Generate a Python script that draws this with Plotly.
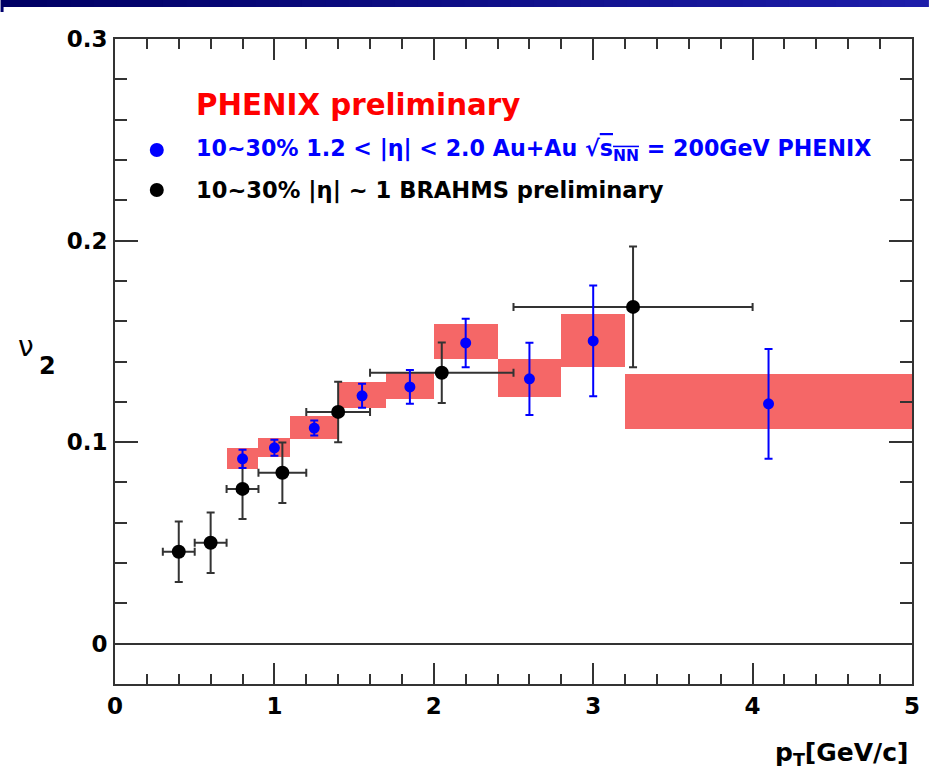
import plotly.graph_objects as go

# ---------------- data ----------------
# PHENIX (blue) points
phx_x = [0.8, 1.0, 1.25, 1.55, 1.85, 2.2, 2.6, 3.0, 4.1]
phx_y = [0.0917, 0.0972, 0.1070, 0.1230, 0.1274, 0.1492, 0.1314, 0.1502, 0.1190]
phx_err = [0.0045, 0.0040, 0.0037, 0.0060, 0.0084, 0.0120, 0.0179, 0.0275, 0.0272]

# PHENIX systematic boxes
sys_xlo = [0.7, 0.9, 1.1, 1.4, 1.7, 2.0, 2.4, 2.8, 3.2]
sys_xhi = [0.9, 1.1, 1.4, 1.7, 2.0, 2.4, 2.8, 3.2, 5.0]
sys_ylo = [0.0868, 0.0927, 0.1016, 0.1170, 0.1215, 0.1413, 0.1225, 0.1373, 0.1066]
sys_yhi = [0.0972, 0.1020, 0.1130, 0.1300, 0.1348, 0.1587, 0.1413, 0.1636, 0.1339]

# BRAHMS (black) points
brh_x = [0.4, 0.6, 0.8, 1.05, 1.4, 2.05, 3.25]
brh_y = [0.0456, 0.0501, 0.0768, 0.0848, 0.1150, 0.1344, 0.1671]
brh_xerr = [0.1, 0.1, 0.1, 0.15, 0.2, 0.45, 0.75]
brh_yerr = [0.015, 0.015, 0.015, 0.015, 0.015, 0.015, 0.030]

x_ticks = [0, 1, 2, 3, 4, 5]
y_ticks = [0, 0.1, 0.2, 0.3]
y_ticktext = ["0", "0.1", "0.2", "0.3"]

FONT = "DejaVu Sans"

fig = go.Figure()

# systematic boxes as bars
fig.add_trace(go.Bar(
    x=[(a + b) / 2 for a, b in zip(sys_xlo, sys_xhi)],
    width=[b - a for a, b in zip(sys_xlo, sys_xhi)],
    base=sys_ylo,
    y=[h - l for l, h in zip(sys_ylo, sys_yhi)],
    marker=dict(color="rgba(240,25,25,0.66)", line=dict(width=0)),
    showlegend=False, hoverinfo="skip",
))

# BRAHMS
fig.add_trace(go.Scatter(
    x=brh_x, y=brh_y, mode="markers",
    marker=dict(color="black", size=14, symbol="circle"),
    error_x=dict(type="data", array=brh_xerr, color="#333333", thickness=2, width=4),
    error_y=dict(type="data", array=brh_yerr, color="#333333", thickness=2, width=4),
    showlegend=False,
))

# PHENIX
fig.add_trace(go.Scatter(
    x=phx_x, y=phx_y, mode="markers",
    marker=dict(color="#0000ff", size=11, symbol="circle"),
    error_y=dict(type="data", array=phx_err, color="#0000ff", thickness=2, width=4),
    showlegend=False,
))

axis_common = dict(
    showgrid=False, showline=True, linecolor="#333333", linewidth=2,
    mirror="ticks", ticks="inside", tickcolor="#333333", tickwidth=2,
    tickfont=dict(family=FONT, size=23, color="black", weight="bold"),
)

fig.update_xaxes(
    range=[0, 5], tickvals=x_ticks, ticklen=21, zeroline=False,
    minor=dict(ticks="inside", dtick=0.2, ticklen=10, tickcolor="#333333", tickwidth=2),
    ticklabelstandoff=0,
    **axis_common,
)
fig.update_yaxes(
    range=[-0.02, 0.3], tickvals=y_ticks, ticktext=y_ticktext, ticklen=23,
    zeroline=True, zerolinecolor="#333333", zerolinewidth=2,
    minor=dict(ticks="inside", dtick=0.02, ticklen=12, tickcolor="#333333", tickwidth=2),
    ticklabelstandoff=1,
    **axis_common,
)

W, H = 932, 774
L, R, T, B = 115, 16, 39, 90
pw, ph = W - L - R, H - T - B


def px(xp):
    return (xp - L) / pw


def py(yp):
    return (H - B - yp) / ph


shapes = []
# top gradient band
n = 40
c0 = (0, 0, 100)
c1 = (30, 30, 170)
for i in range(n):
    t = i / (n - 1)
    col = "rgb(%d,%d,%d)" % tuple(int(a + (b - a) * t) for a, b in zip(c0, c1))
    shapes.append(dict(type="rect", xref="paper", yref="paper",
                       x0=px(i * W / n), x1=px((i + 1) * W / n + 1),
                       y0=py(7), y1=py(0), fillcolor=col, line=dict(width=0), layer="above"))
shapes.append(dict(type="rect", xref="paper", yref="paper",
                   x0=px(0), x1=px(3), y0=py(12), y1=py(7),
                   fillcolor="rgb(0,0,110)", line=dict(width=0)))
# legend dots
for yy, col in [(150, "#0000ff"), (190, "black")]:
    shapes.append(dict(type="circle", xref="paper", yref="paper",
                       xsizemode="pixel", ysizemode="pixel",
                       xanchor=px(157), yanchor=py(yy),
                       x0=-7, x1=7, y0=-7, y1=7,
                       fillcolor=col, line=dict(width=0)))

ann_common = dict(xref="paper", yref="paper", showarrow=False)
annotations = [
    dict(text="<b>PHENIX preliminary</b>", x=px(194), y=py(105), xanchor="left", yanchor="middle",
         font=dict(family=FONT, size=29.3, color="#ff0000"), **ann_common),
    dict(text="<b>10~30% 1.2 &lt; |η| &lt; 2.0 Au+Au √<span style='text-decoration:overline'>s<sub>NN</sub></span> = 200GeV PHENIX</b>",
         x=px(194), y=py(150), xanchor="left", yanchor="middle",
         font=dict(family=FONT, size=22.2, color="#0000ff"), **ann_common),
    dict(text="<b>10~30% |η| ~ 1 BRAHMS preliminary</b>",
         x=px(194), y=py(190), xanchor="left", yanchor="middle",
         font=dict(family=FONT, size=22.6, color="black"), **ann_common),
    dict(text="ν", x=px(26), y=py(346), xanchor="center", yanchor="middle",
         font=dict(family="DejaVu Sans", size=28, color="black"), **ann_common),
    dict(text="<b>2</b>", x=px(47), y=py(366), xanchor="center", yanchor="middle",
         font=dict(family=FONT, size=24, color="black"), **ann_common),
    dict(text="<b>p<sub>T</sub>[GeV/c]</b>", x=px(914), y=py(754), xanchor="right", yanchor="middle",
         font=dict(family=FONT, size=25, color="black"), **ann_common),
]

fig.update_layout(
    width=W, height=H,
    margin=dict(l=L, r=R, t=T, b=B, pad=0),
    paper_bgcolor="white", plot_bgcolor="white",
    shapes=shapes, annotations=annotations,
    showlegend=False, bargap=0,
)

fig.write_html("out.html")
